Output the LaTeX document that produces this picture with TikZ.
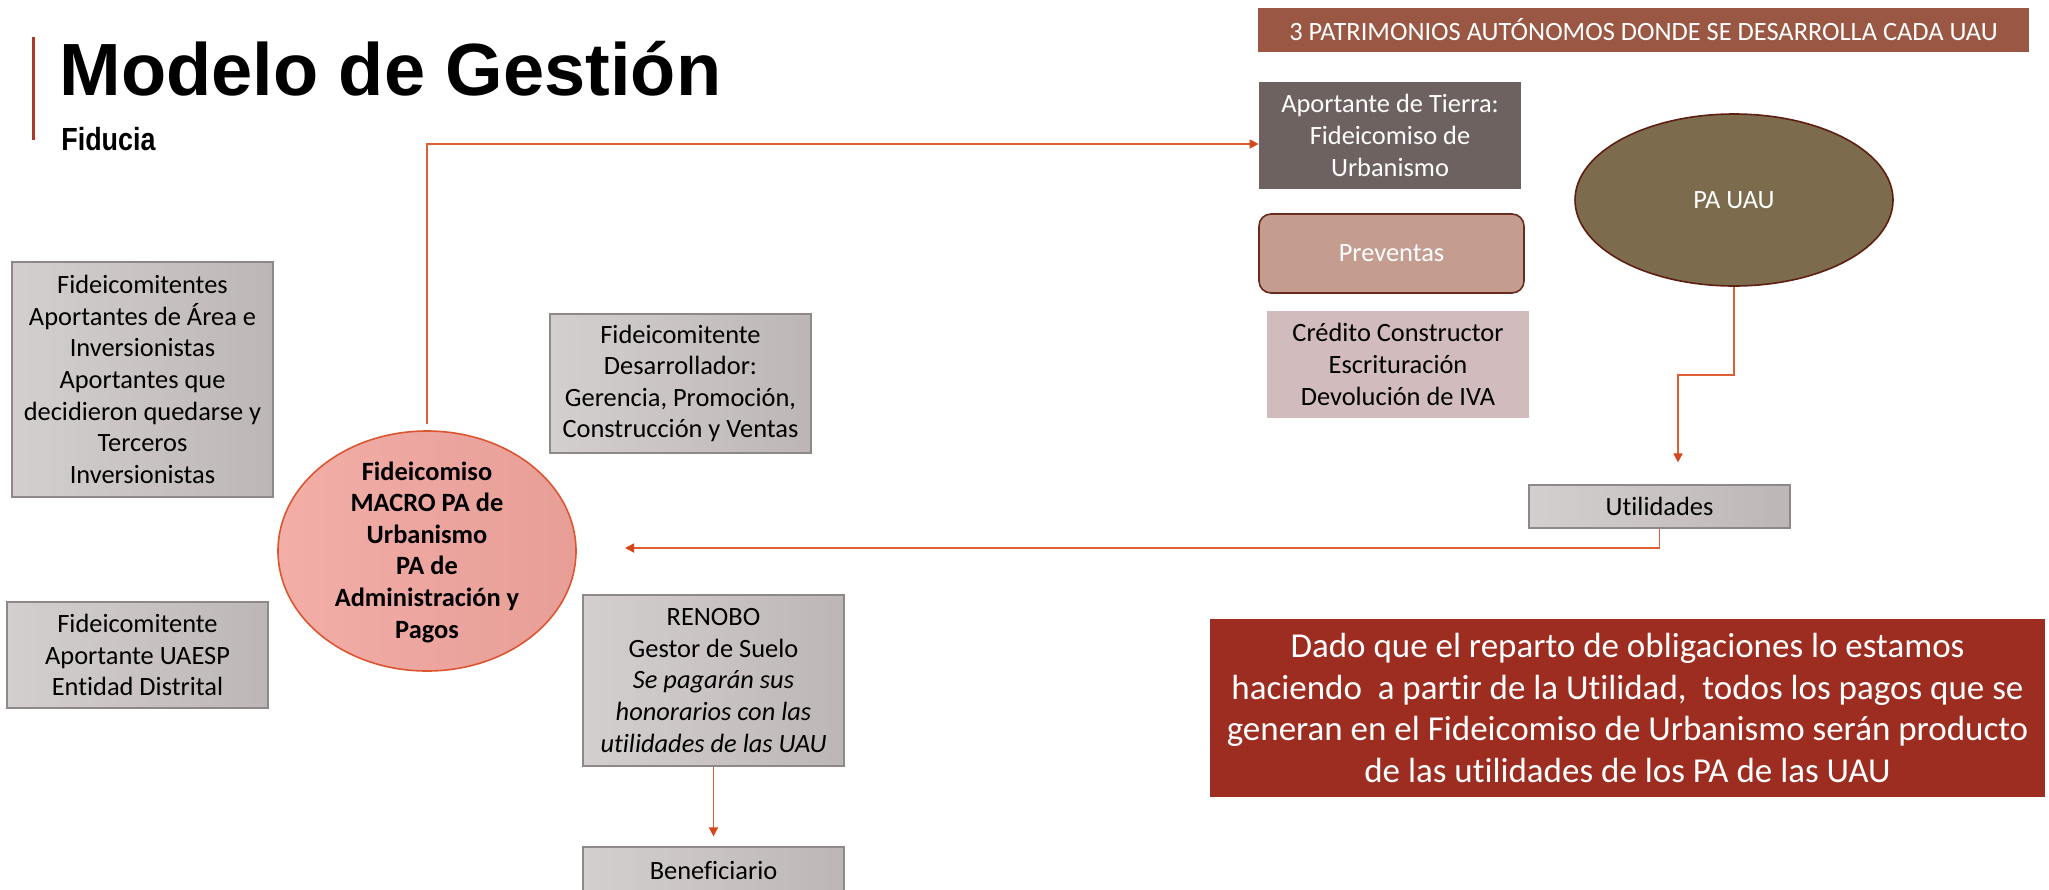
\documentclass[tikz,border=0pt]{standalone}
\usepackage{fontspec}
\setmainfont{Carlito}[Ligatures=NoCommon]
\newfontfamily\titlefont{Liberation Sans}
\newfontfamily\narrowfont{Liberation Sans}[FakeStretch=0.84]
\usetikzlibrary{shapes.geometric,arrows.meta}

\definecolor{linea}{HTML}{DF5F35}
\definecolor{puntalinea}{HTML}{D4471C}
\definecolor{barra}{HTML}{A8392B}
\definecolor{grisA}{HTML}{D4CFCF}
\definecolor{grisB}{HTML}{BDB6B6}
\definecolor{grisborde}{HTML}{8F8888}
\definecolor{rosaA}{HTML}{F2AEA7}
\definecolor{rosaB}{HTML}{E79E97}
\definecolor{rosaborde}{HTML}{DB5630}
\definecolor{cabecera}{HTML}{9A5844}
\definecolor{aportante}{HTML}{6E6261}
\definecolor{preventa}{HTML}{C49D90}
\definecolor{preventaborde}{HTML}{6A2A1E}
\definecolor{credito}{HTML}{D1BBBD}
\definecolor{uau}{HTML}{7C6B4C}
\definecolor{uauborde}{HTML}{5C1F12}
\definecolor{nota}{HTML}{9C2D20}

\begin{document}
\begin{tikzpicture}[x=0.5pt, y=-0.5pt,
    texto/.style={align=center, inner sep=0pt, font=\fontsize{13.2}{15.8}\selectfont},
    caja/.style={texto, draw=grisborde, line width=0.6pt, left color=grisA, right color=grisB,
      minimum width=130.5pt},
    flecha/.style={draw=linea, line width=0.85pt,
      -{Triangle[length=4.5pt,width=4.5pt,color=puntalinea]}}]
  \useasboundingbox (0,0) rectangle (2049,889);

  \draw[barra, line width=1.5pt] (33,37) -- (33,140);
  \node[anchor=base west, inner sep=0pt, font=\titlefont\bfseries\fontsize{37}{44}\selectfont]
    (titulo) at (59,95) {Modelo de Gestión};
  \node[anchor=base west, inner sep=0pt, font=\narrowfont\bfseries\fontsize{16}{19}\selectfont]
    (subtitulo) at (61,150) {Fiducia};

  \node[caja, minimum height=117.5pt] (fideis) at (142.5,379.5)
    {Fideicomitentes\\Aportantes de Área e\\Inversionistas\\Aportantes que\\decidieron quedarse y\\Terceros\\Inversionistas};
  \node[caja, minimum height=69.5pt] (desarrollador) at (680.5,383.5)
    {Fideicomitente\\Desarrollador:\\Gerencia, Promoción,\\Construcción y Ventas};
  \node[caja, minimum height=53pt] (uaesp) at (137.5,655)
    {Fideicomitente\\Aportante UAESP\\Entidad Distrital};
  \node[caja, minimum height=85.5pt] (renobo) at (713.5,680.5)
    {RENOBO\\Gestor de Suelo\\\textit{Se pagarán sus}\\\textit{honorarios con las}\\\textit{utilidades de las UAU}};
  \node[caja, minimum height=23pt] (bene) at (713.5,870) {Beneficiario};
  \node[caja, minimum height=21.5pt] (util) at (1659.5,506.5) {Utilidades};

  \node[ellipse, draw=rosaborde, line width=0.8pt, left color=rosaA, right color=rosaB,
    minimum width=149pt, minimum height=120pt, inner sep=0pt] (macro) at (427,551) {};
  \node[texto, font=\bfseries\fontsize{13.2}{15.8}\selectfont] (macrotexto) at (427,552)
    {Fideicomiso\\MACRO PA de\\Urbanismo\\PA de\\Administración y\\Pagos};

  \node[texto, fill=cabecera, text=white, minimum width=385.5pt, minimum height=22pt]
    (cabecera) at (1643.5,30) {3 PATRIMONIOS AUTÓNOMOS DONDE SE DESARROLLA CADA UAU};
  \node[texto, fill=aportante, text=white, minimum width=131pt, minimum height=53.5pt]
    (tierra) at (1390,135.5) {Aportante de Tierra:\\Fideicomiso de\\Urbanismo};
  \node[texto, draw=preventaborde, line width=0.8pt, fill=preventa, text=white, rounded corners=6pt,
    minimum width=132.5pt, minimum height=39.5pt] (preventas) at (1391.5,253.5) {Preventas};
  \node[texto, fill=credito, minimum width=131pt, minimum height=53.5pt]
    (credito) at (1398,364.5) {Crédito Constructor\\Escrituración\\Devolución de IVA};
  \node[ellipse, texto, draw=uauborde, line width=0.8pt, fill=uau, text=white,
    minimum width=159pt, minimum height=86pt] (pauau) at (1734,200) {PA UAU};
  \node[texto, fill=nota, text=white, font=\fontsize{17.5}{20.8}\selectfont,
    minimum width=417.5pt, minimum height=89pt] (nota) at (1627.5,708)
    {Dado que el reparto de obligaciones lo estamos\\haciendo~ a partir de la Utilidad,~ todos los pagos que se\\generan en el Fideicomiso de Urbanismo serán producto\\de las utilidades de los PA de las UAU};

  \coordinate (paso) at (1678,375);
  \coordinate (retorno) at (625,548);
  \draw[flecha, shorten <=3pt] (macro.north) |- ([yshift=-4.25pt]tierra.west);
  \draw[flecha, shorten >=11pt] (pauau.south) |- (paso) -- (paso |- util.north);
  \draw[flecha] (util.south) |- (retorno);
  \draw[flecha, shorten >=5pt] (renobo.south) -- (bene.north);
\end{tikzpicture}
\end{document}
